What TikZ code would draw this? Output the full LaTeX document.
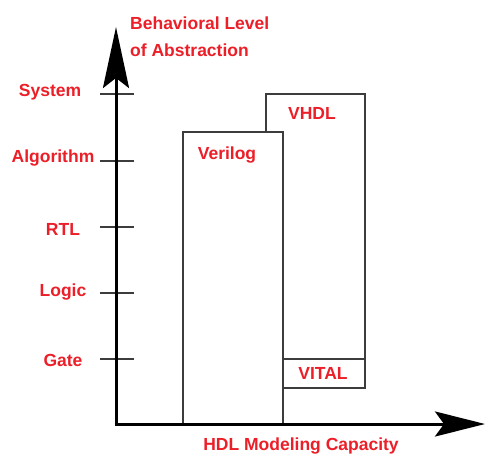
\documentclass[tikz,border=0pt]{standalone}
\usepackage{fontspec}
\setmainfont{Liberation Sans}
\usetikzlibrary{arrows.meta}
\definecolor{lblred}{RGB}{236,30,40}
\definecolor{boxgray}{RGB}{60,60,60}
\begin{document}
\begin{tikzpicture}[x=1pt,y=-1pt,
  lbl/.style={text=lblred,font=\fontsize{17.5}{27}\selectfont\bfseries,inner sep=0pt},
  box/.style={draw=boxgray,line width=2pt,rectangle,inner sep=0pt,outer sep=0pt},
  axis/.style={line width=3pt,black},
  tick/.style={draw=boxgray,line width=2pt}]
\useasboundingbox (0,0) rectangle (486,457);
% named points
\coordinate (o) at (116,424);
\coordinate (ytip) at (116,27);
\coordinate (xtip) at (485,424);
% boxes
\node[box,anchor=north west,minimum width=99pt,minimum height=294pt] (vhdl) at (266,94) {};
\node[box,anchor=south west,minimum width=82pt,minimum height=29pt] (vital) at (283,388) {};
\node[box,fill=white,anchor=north west,minimum width=100pt,minimum height=292pt] (verilog) at (183,132) {};
% box labels
\node[lbl] (tverilog) at (227,155) {Verilog};
\node[lbl] (tvhdl) at (312,113) {VHDL};
\node[lbl] (tvital) at (323,373) {VITAL};
% ticks
\foreach \n/\y in {sys/94,alg/160.5,rtl/226.5,log/293,gate/359}{
  \coordinate (\n L) at (100,\y);
  \coordinate (\n R) at (134,\y);
  \draw[tick] (\n L) -- (\n R);
}
% axes
\draw[axis,-{Stealth[length=61pt,width=26pt,inset=10pt]}] (o) -- (ytip);
\draw[axis,-{Stealth[length=50pt,width=25pt,inset=9pt]}] ([xshift=-1.5pt]o) -- (xtip);
% level labels
\node[lbl] (lsys) at (50,92) {System};
\node[lbl] (lalg) at (53,158) {Algorithm};
\node[lbl] (lrtl) at (63,229) {RTL};
\node[lbl] (llog) at (63,292) {Logic};
\node[lbl] (lgate) at (63,360) {Gate};
% axis titles
\node[lbl,align=left,anchor=west] (ytitle) at (130,36.5) {Behavioral Level\\of Abstraction};
\node[lbl] (xtitle) at (301,446) {HDL Modeling Capacity};
\end{tikzpicture}
\end{document}
